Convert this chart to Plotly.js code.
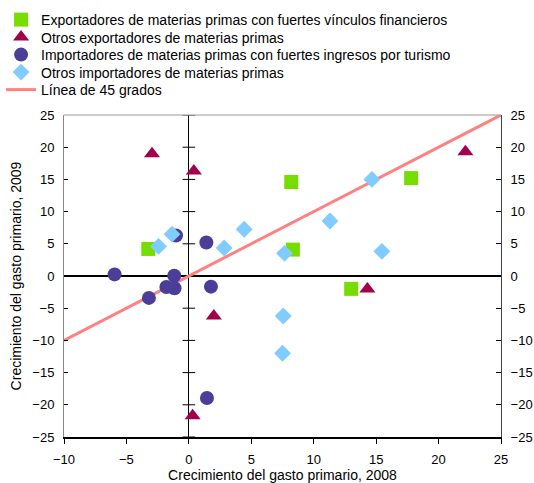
<!DOCTYPE html>
<html><head><meta charset="utf-8">
<script src="https://cdn.plot.ly/plotly-3.0.1.min.js"></script>
<style>body{margin:0;background:#fff}#c{width:534px;height:483px}</style>
</head><body><div id="c"></div>
<script>
const seriesNames = [
  "Exportadores de materias primas con fuertes vínculos financieros",
  "Otros exportadores de materias primas",
  "Importadores de materias primas con fuertes ingresos por turismo",
  "Otros importadores de materias primas",
  "Línea de 45 grados"
];
const finX = [-3.25, 8.2, 8.33, 17.8, 13.0];
const finY = [4.2, 14.6, 4.1, 15.2, -2.0];
const expX = [-2.95, 0.4, 22.15, 14.3, 2.0, 0.3];
const expY = [19.0, 16.3, 19.3, -2.0, -6.2, -21.7];
const turX = [-5.95, -1.03, 1.4, -1.17, -1.8, -1.15, 1.77, -3.2, 1.45];
const turY = [0.25, 6.3, 5.2, 0.05, -1.7, -1.9, -1.65, -3.4, -18.95];
const impX = [-2.43, -1.35, 2.83, 4.43, 11.3, 14.66, 15.46, 7.66, 7.56, 7.5];
const impY = [4.6, 6.5, 4.35, 7.25, 8.54, 15.0, 3.83, 3.52, -6.2, -12.0];
const lineX = [-10, 25];
const lineY = [-10, 25];
const yTicks = [-25, -20, -15, -10, -5, 0, 5, 10, 15, 20, 25];
const xTitle = "Crecimiento del gasto primario, 2008";
const yTitle = "Crecimiento del gasto primario, 2009";

const traces = [
  {x: yTicks.map(() => 0), y: yTicks, mode: 'markers', showlegend: false, hoverinfo: 'skip',
   marker: {symbol: 'line-ew', size: 9, color: '#000', line: {color: '#000', width: 1}}},
  {x: lineX, y: lineY, mode: 'lines', name: seriesNames[4], legend: 'legend5', line: {color: '#FF8080', width: 3}},
  {x: finX, y: finY, mode: 'markers', name: seriesNames[0], legend: 'legend',
   marker: {symbol: 'square', size: 14, color: '#77DD00'}},
  {x: expX, y: expY, mode: 'markers', name: seriesNames[1], legend: 'legend2',
   marker: {symbol: 'triangle-up', size: 14, color: '#A3004C'}},
  {x: turX, y: turY, mode: 'markers', name: seriesNames[2], legend: 'legend3',
   marker: {symbol: 'circle', size: 14, color: '#4A3E98'}},
  {x: impX, y: impY, mode: 'markers', name: seriesNames[3], legend: 'legend4',
   marker: {symbol: 'diamond', size: 13, color: '#80CCFF'}},
  {x: [null], y: [null], yaxis: 'y2', showlegend: false, hoverinfo: 'skip'}
];

const fam = 'Liberation Sans, Arial, sans-serif';
const font = {family: fam, size: 13, color: '#000'};
function leg(y) {
  return {x: -0.144, y: y, xanchor: 'left', yanchor: 'top',
          font: {family: fam, size: 14, color: '#000'}, bgcolor: 'rgba(0,0,0,0)', itemwidth: 30};
}
const layout = {
  width: 534, height: 483,
  margin: {l: 64, r: 33, t: 115, b: 46, autoexpand: false},
  paper_bgcolor: '#fff', plot_bgcolor: '#fff',
  font: font,
  showlegend: true,
  legend: leg(1.3447), legend2: leg(1.2904), legend3: leg(1.236), legend4: leg(1.1817), legend5: leg(1.1273),
  xaxis: {range: [-10, 25], dtick: 5, tick0: 0, showgrid: false, zeroline: true, zerolinecolor: '#000', zerolinewidth: 1.2,
          showline: true, linecolor: '#000', linewidth: 2, ticks: 'outside', ticklen: 5, tickcolor: '#000',
          ticklabelstandoff: 4, automargin: false,
          title: {text: xTitle, font: {family: fam, size: 14}, standoff: 9}, tickfont: font},
  yaxis: {range: [-25, 25], dtick: 5, tick0: 0, showgrid: false, zeroline: true, zerolinecolor: '#000', zerolinewidth: 1.2,
          showline: true, linecolor: '#888', linewidth: 1, ticks: 'inside', ticklen: 4, tickcolor: '#000',
          ticklabelstandoff: 6, automargin: false,
          title: {text: yTitle, font: {family: fam, size: 14}, standoff: 7}, tickfont: font},
  yaxis2: {range: [-25, 25], dtick: 5, tick0: 0, overlaying: 'y', side: 'right', showgrid: false, zeroline: false,
           showline: true, linecolor: '#444', linewidth: 1, ticks: 'inside', ticklen: 5, tickcolor: '#000',
           ticklabelstandoff: 6, automargin: false, tickfont: font},
  shapes: [{type: 'line', xref: 'paper', yref: 'paper', x0: 0, x1: 1, y0: 1, y1: 1, line: {color: '#999', width: 1}}]
};
Plotly.newPlot('c', traces, layout, {displayModeBar: false, staticPlot: true});
</script></body></html>
